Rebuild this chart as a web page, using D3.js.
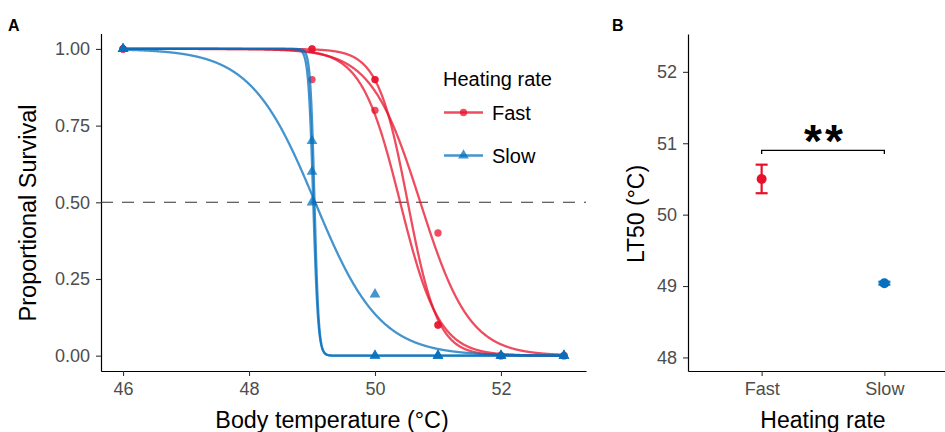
<!DOCTYPE html>
<html><head><meta charset="utf-8">
<script src="https://cdn.jsdelivr.net/npm/d3@7"></script>
<style>
html,body{margin:0;padding:0;background:#fff;}
text{font-family:"Liberation Sans",Arial,Helvetica,sans-serif;}
</style></head>
<body><svg id="chart" width="945" height="432"></svg>
<script>
// ---------- DATA ----------
const rates = ["Fast", "Slow"];
const rateColors = ["#E8112B", "#0570BE"];
// Panel A: observed proportional survival
const fastTemps = [46, 46, 46, 49, 49, 49, 50, 50, 50, 51, 51, 51, 52, 52, 52, 53, 53, 53];
const fastSurvival = [1, 1, 1, 1, 1, 0.9, 0.9, 0.9, 0.8, 0.4, 0.1, 0.1, 0, 0, 0, 0, 0, 0];
const slowTemps = [46, 46, 46, 49, 49, 49, 50, 50, 50, 51, 51, 51, 52, 52, 52, 53, 53, 53];
const slowSurvival = [1, 1, 1, 0.7, 0.6, 0.5, 0.2, 0, 0, 0, 0, 0, 0, 0, 0, 0, 0, 0];
// Panel A: fitted logistic curves per trial (LT50 and slope)
const curveRate = ["Fast", "Fast", "Fast", "Slow", "Slow", "Slow"];
const curveLT50 = [50.72, 50.52, 50.40, 49.05, 49.02, 49.04];
const curveSlope = [2.55, 4.2, 3.25, 1.95, 26, 30];
// Panel B: mean LT50 with error
const lt50Mean = [50.5, 49.04];
const lt50Err = [0.2, 0.02];
const sigLabel = "**";
const yTicksA = [0, 0.25, 0.5, 0.75, 1];
const xTicksA = [46, 48, 50, 52];
const yTicksB = [48, 49, 50, 51, 52];

// ---------- DRAW ----------
const svg = d3.select("#chart");
const color = d3.scaleOrdinal(rates, rateColors);

// Panel A scales
const xA = d3.scaleLinear([45.65, 53.35], [101, 586]);
const yA = d3.scaleLinear([-0.05, 1.05], [371, 33.6]);

const gA = svg.append("g");
const axisStyle = (g) => {
  g.select(".domain").attr("stroke", "#000").attr("stroke-width", 1.2);
  g.selectAll(".tick line").attr("stroke", "#333").attr("stroke-width", 1.1);
  g.selectAll(".tick text").attr("fill", "#4D4D4D").attr("font-size", 18)
    .attr("font-family", '"Liberation Sans",Arial,sans-serif');
};
gA.append("g").attr("transform", "translate(0,371)")
  .call(d3.axisBottom(xA).tickValues(xTicksA).tickSize(5).tickSizeOuter(0).tickPadding(6))
  .call(axisStyle);
gA.append("g").attr("transform", "translate(101,0)")
  .call(d3.axisLeft(yA).tickValues(yTicksA).tickFormat(d3.format(".2f")).tickSize(5).tickSizeOuter(0).tickPadding(6))
  .call(axisStyle);

// dashed 0.5 line
gA.append("line").attr("x1", xA(45.65)).attr("x2", xA(53.35))
  .attr("y1", yA(0.5)).attr("y2", yA(0.5))
  .attr("stroke", "#333").attr("stroke-width", 1.1).attr("stroke-dasharray", "12,9");

const grid = d3.range(46, 53.0001, 0.005);
const line = d3.line().x(d => xA(d[0])).y(d => yA(d[1]));
function drawRate(rate) {
  curveRate.forEach((r, i) => {
    if (r !== rate) return;
    const pts = grid.map(x => [x, 1 / (1 + Math.exp(curveSlope[i] * (x - curveLT50[i])))]);
    gA.append("path").attr("d", line(pts)).attr("fill", "none")
      .attr("stroke", color(rate)).attr("stroke-width", 2.3).attr("stroke-opacity", 0.75);
  });
  const temps = rate === "Fast" ? fastTemps : slowTemps;
  const surv = rate === "Fast" ? fastSurvival : slowSurvival;
  const sym = d3.symbol().type(rate === "Fast" ? d3.symbolCircle : d3.symbolTriangle)
    .size(rate === "Fast" ? 42 : 50);
  gA.append("g").selectAll("path").data(temps).join("path")
    .attr("transform", (d, i) => `translate(${xA(d)},${yA(surv[i])})`)
    .attr("d", sym).attr("fill", color(rate)).attr("fill-opacity", 0.75);
}
drawRate("Fast");
drawRate("Slow");

// legend
const leg = svg.append("g");
leg.append("text").attr("x", 443).attr("y", 86).attr("font-size", 20).attr("fill", "#000").text("Heating rate");
rates.forEach((r, i) => {
  const y = 112.5 + i * 43;
  leg.append("line").attr("x1", 444).attr("x2", 483).attr("y1", y).attr("y2", y)
    .attr("stroke", color(r)).attr("stroke-width", 2.3).attr("stroke-opacity", 0.75);
  leg.append("path").attr("transform", `translate(463.5,${y})`)
    .attr("d", d3.symbol().type(i === 0 ? d3.symbolCircle : d3.symbolTriangle).size(i === 0 ? 42 : 50))
    .attr("fill", color(r)).attr("fill-opacity", 0.75);
  leg.append("text").attr("x", 492).attr("y", y).attr("dy", "0.36em").attr("font-size", 20).attr("fill", "#000").text(r);
});

// Axis titles A
svg.append("text").attr("x", 332).attr("y", 428).attr("text-anchor", "middle")
  .attr("font-size", 23.3).attr("fill", "#000").text("Body temperature (°C)");
svg.append("text").attr("transform", "translate(36,213) rotate(-90)").attr("text-anchor", "middle")
  .attr("font-size", 23.5).attr("fill", "#000").text("Proportional Survival");
svg.append("text").attr("x", 8).attr("y", 31).attr("font-size", 16).attr("font-weight", "bold").text("A");

// Panel B
const xB = d3.scalePoint(rates, [688, 958]).padding(0.6);
const yB = d3.scaleLinear([47.81, 52.53], [371, 34]);
const gB = svg.append("g");
gB.append("g").attr("transform", "translate(0,371)")
  .call(d3.axisBottom(xB).tickSize(5).tickSizeOuter(0).tickPadding(6))
  .call(axisStyle);
gB.append("g").attr("transform", "translate(688,0)")
  .call(d3.axisLeft(yB).tickValues(yTicksB).tickFormat(d3.format("d")).tickSize(5).tickSizeOuter(0).tickPadding(6))
  .call(axisStyle);

rates.forEach((r, i) => {
  const x = xB(r);
  const lo = yB(lt50Mean[i] - lt50Err[i]), hi = yB(lt50Mean[i] + lt50Err[i]);
  const eg = gB.append("g").attr("stroke", color(r)).attr("stroke-width", 2.2);
  eg.append("line").attr("x1", x).attr("x2", x).attr("y1", lo).attr("y2", hi);
  eg.append("line").attr("x1", x - 6).attr("x2", x + 6).attr("y1", lo).attr("y2", lo);
  eg.append("line").attr("x1", x - 6).attr("x2", x + 6).attr("y1", hi).attr("y2", hi);
  gB.append("circle").attr("cx", x).attr("cy", yB(lt50Mean[i])).attr("r", 5).attr("fill", color(r));
});

// significance bracket
const bTop = yB(50.9), bEnd = yB(50.85);
gB.append("path")
  .attr("d", `M${xB("Fast")},${bEnd}V${bTop}H${xB("Slow")}V${bEnd}`)
  .attr("fill", "none").attr("stroke", "#000").attr("stroke-width", 1.3);
gB.append("text").attr("x", (xB("Fast") + xB("Slow")) / 2 + 2).attr("y", 157)
  .attr("text-anchor", "middle").attr("font-size", 46).attr("font-weight", "bold")
  .attr("letter-spacing", 3).text(sigLabel);

svg.append("text").attr("x", 823).attr("y", 428).attr("text-anchor", "middle")
  .attr("font-size", 23).attr("fill", "#000").text("Heating rate");
svg.append("text").attr("transform", "translate(644,214) rotate(-90)").attr("text-anchor", "middle")
  .attr("font-size", 23).attr("fill", "#000").text("LT50 (°C)");
svg.append("text").attr("x", 612).attr("y", 31).attr("font-size", 16).attr("font-weight", "bold").text("B");
</script></body></html>
